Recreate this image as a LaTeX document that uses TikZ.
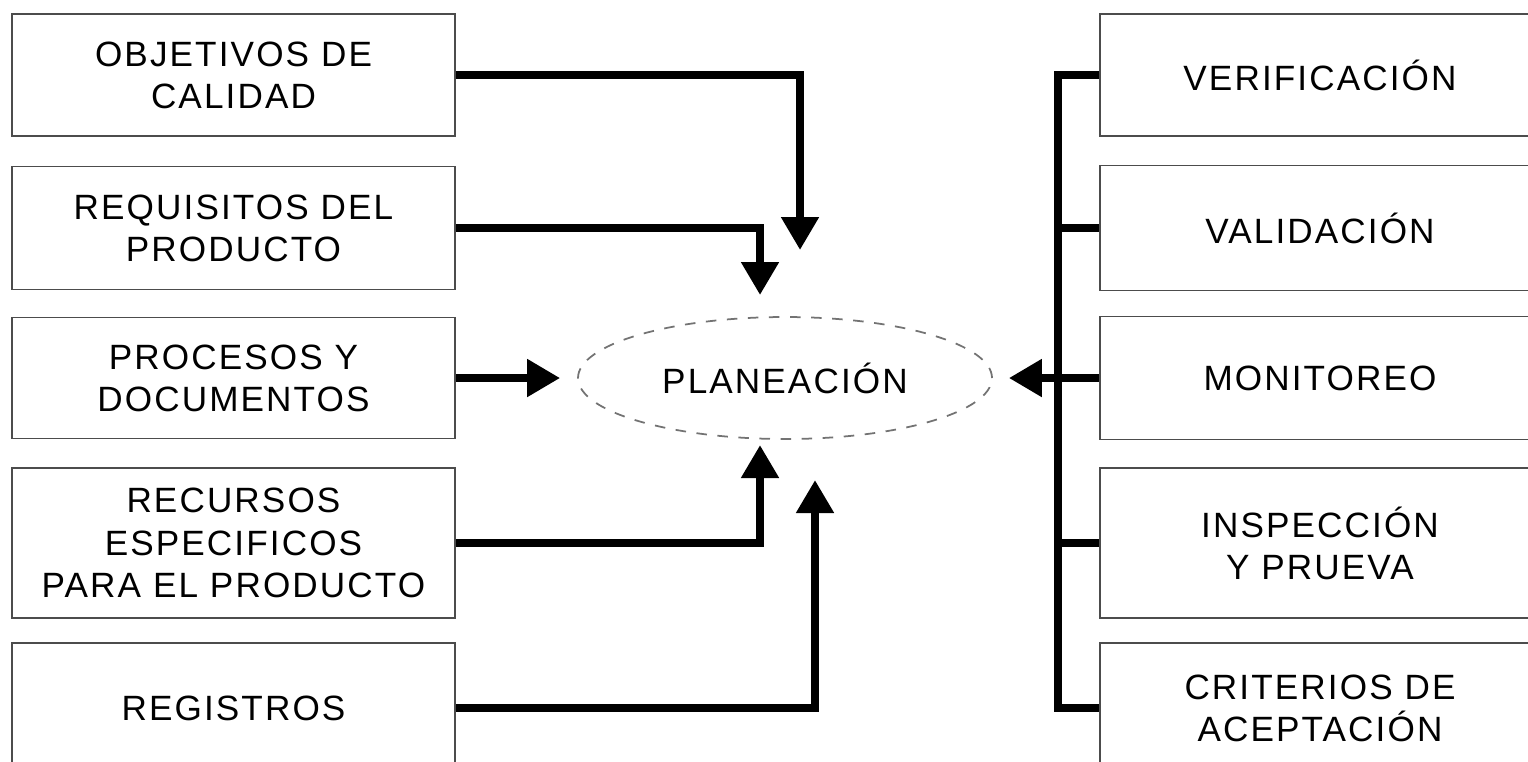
\documentclass[tikz,border=0pt]{standalone}
\usepackage{fontspec}
\setmainfont{Liberation Sans}[LetterSpace=6]
\usetikzlibrary{arrows.meta,shapes.geometric,positioning,calc}

\begin{document}
\begin{tikzpicture}[
    caja/.style={rectangle,draw=black!70,line width=0.5pt,minimum width=4.43cm,
      align=center,font=\fontsize{10}{12}\selectfont},
    cajad/.style={caja,minimum width=4.40cm},
    elipse/.style={ellipse,draw=black!55,line width=0.5pt,dash pattern=on 3pt off 3pt,
      minimum width=4.14cm,minimum height=1.22cm,font=\fontsize{10}{12}\selectfont},
    linea/.style={line width=0.08cm,line join=miter},
    flecha/.style={linea,-{Triangle[width=0.36cm,length=0.33cm]}}
  ]
  \useasboundingbox (0,0) rectangle (15.28,-7.61);

  % entradas
  \node[caja,minimum height=1.22cm] (obj) at (2.335,-0.75) {OBJETIVOS DE\\CALIDAD};
  \node[caja,minimum height=1.23cm] (req) at (2.335,-2.28) {REQUISITOS DEL\\PRODUCTO};
  \node[caja,minimum height=1.21cm] (pro) at (2.335,-3.78) {PROCESOS Y\\DOCUMENTOS};
  \node[caja,minimum height=1.50cm] (rec) at (2.335,-5.43) {RECURSOS\\ESPECIFICOS\\PARA EL PRODUCTO};
  \node[caja,minimum height=1.30cm] (reg) at (2.335,-7.08) {REGISTROS};

  % controles
  \node[cajad,minimum height=1.22cm] (ver) at (13.20,-0.75) {VERIFICACIÓN};
  \node[cajad,minimum height=1.25cm] (val) at (13.20,-2.28) {VALIDACIÓN};
  \node[cajad,minimum height=1.23cm] (mon) at (13.20,-3.78) {MONITOREO};
  \node[cajad,minimum height=1.50cm] (ins) at (13.20,-5.43) {INSPECCIÓN\\Y PRUEVA};
  \node[cajad,minimum height=1.30cm] (cri) at (13.20,-7.08) {CRITERIOS DE\\ACEPTACIÓN};

  \node[elipse] (plan) at (7.85,-3.78) {PLANEACIÓN};

  % puntas libres
  \coordinate (t1) at (8.00,-2.50);
  \coordinate (t2) at (7.60,-2.95);
  \coordinate (t4) at (7.60,-4.45);
  \coordinate (t5) at (8.15,-4.80);
  \coordinate (bus) at (10.58,0);

  \draw[flecha] (obj.east) -| (t1);
  \draw[flecha] (req.east) -| (t2);
  \draw[flecha,shorten >=0.17cm] (pro.east) -- (plan.west);
  \draw[flecha] (rec.east) -| (t4);
  \draw[flecha] (reg.east) -| (t5);

  \draw[linea] (ver.west) -| (bus |- cri.west) -- (cri.west);
  \foreach \n in {val,mon,ins}
    \draw[linea] (\n.west) -- (\n.west -| bus);
  \draw[flecha,shorten >=0.16cm] (mon.west -| bus) -- (plan.east);
\end{tikzpicture}
\end{document}
